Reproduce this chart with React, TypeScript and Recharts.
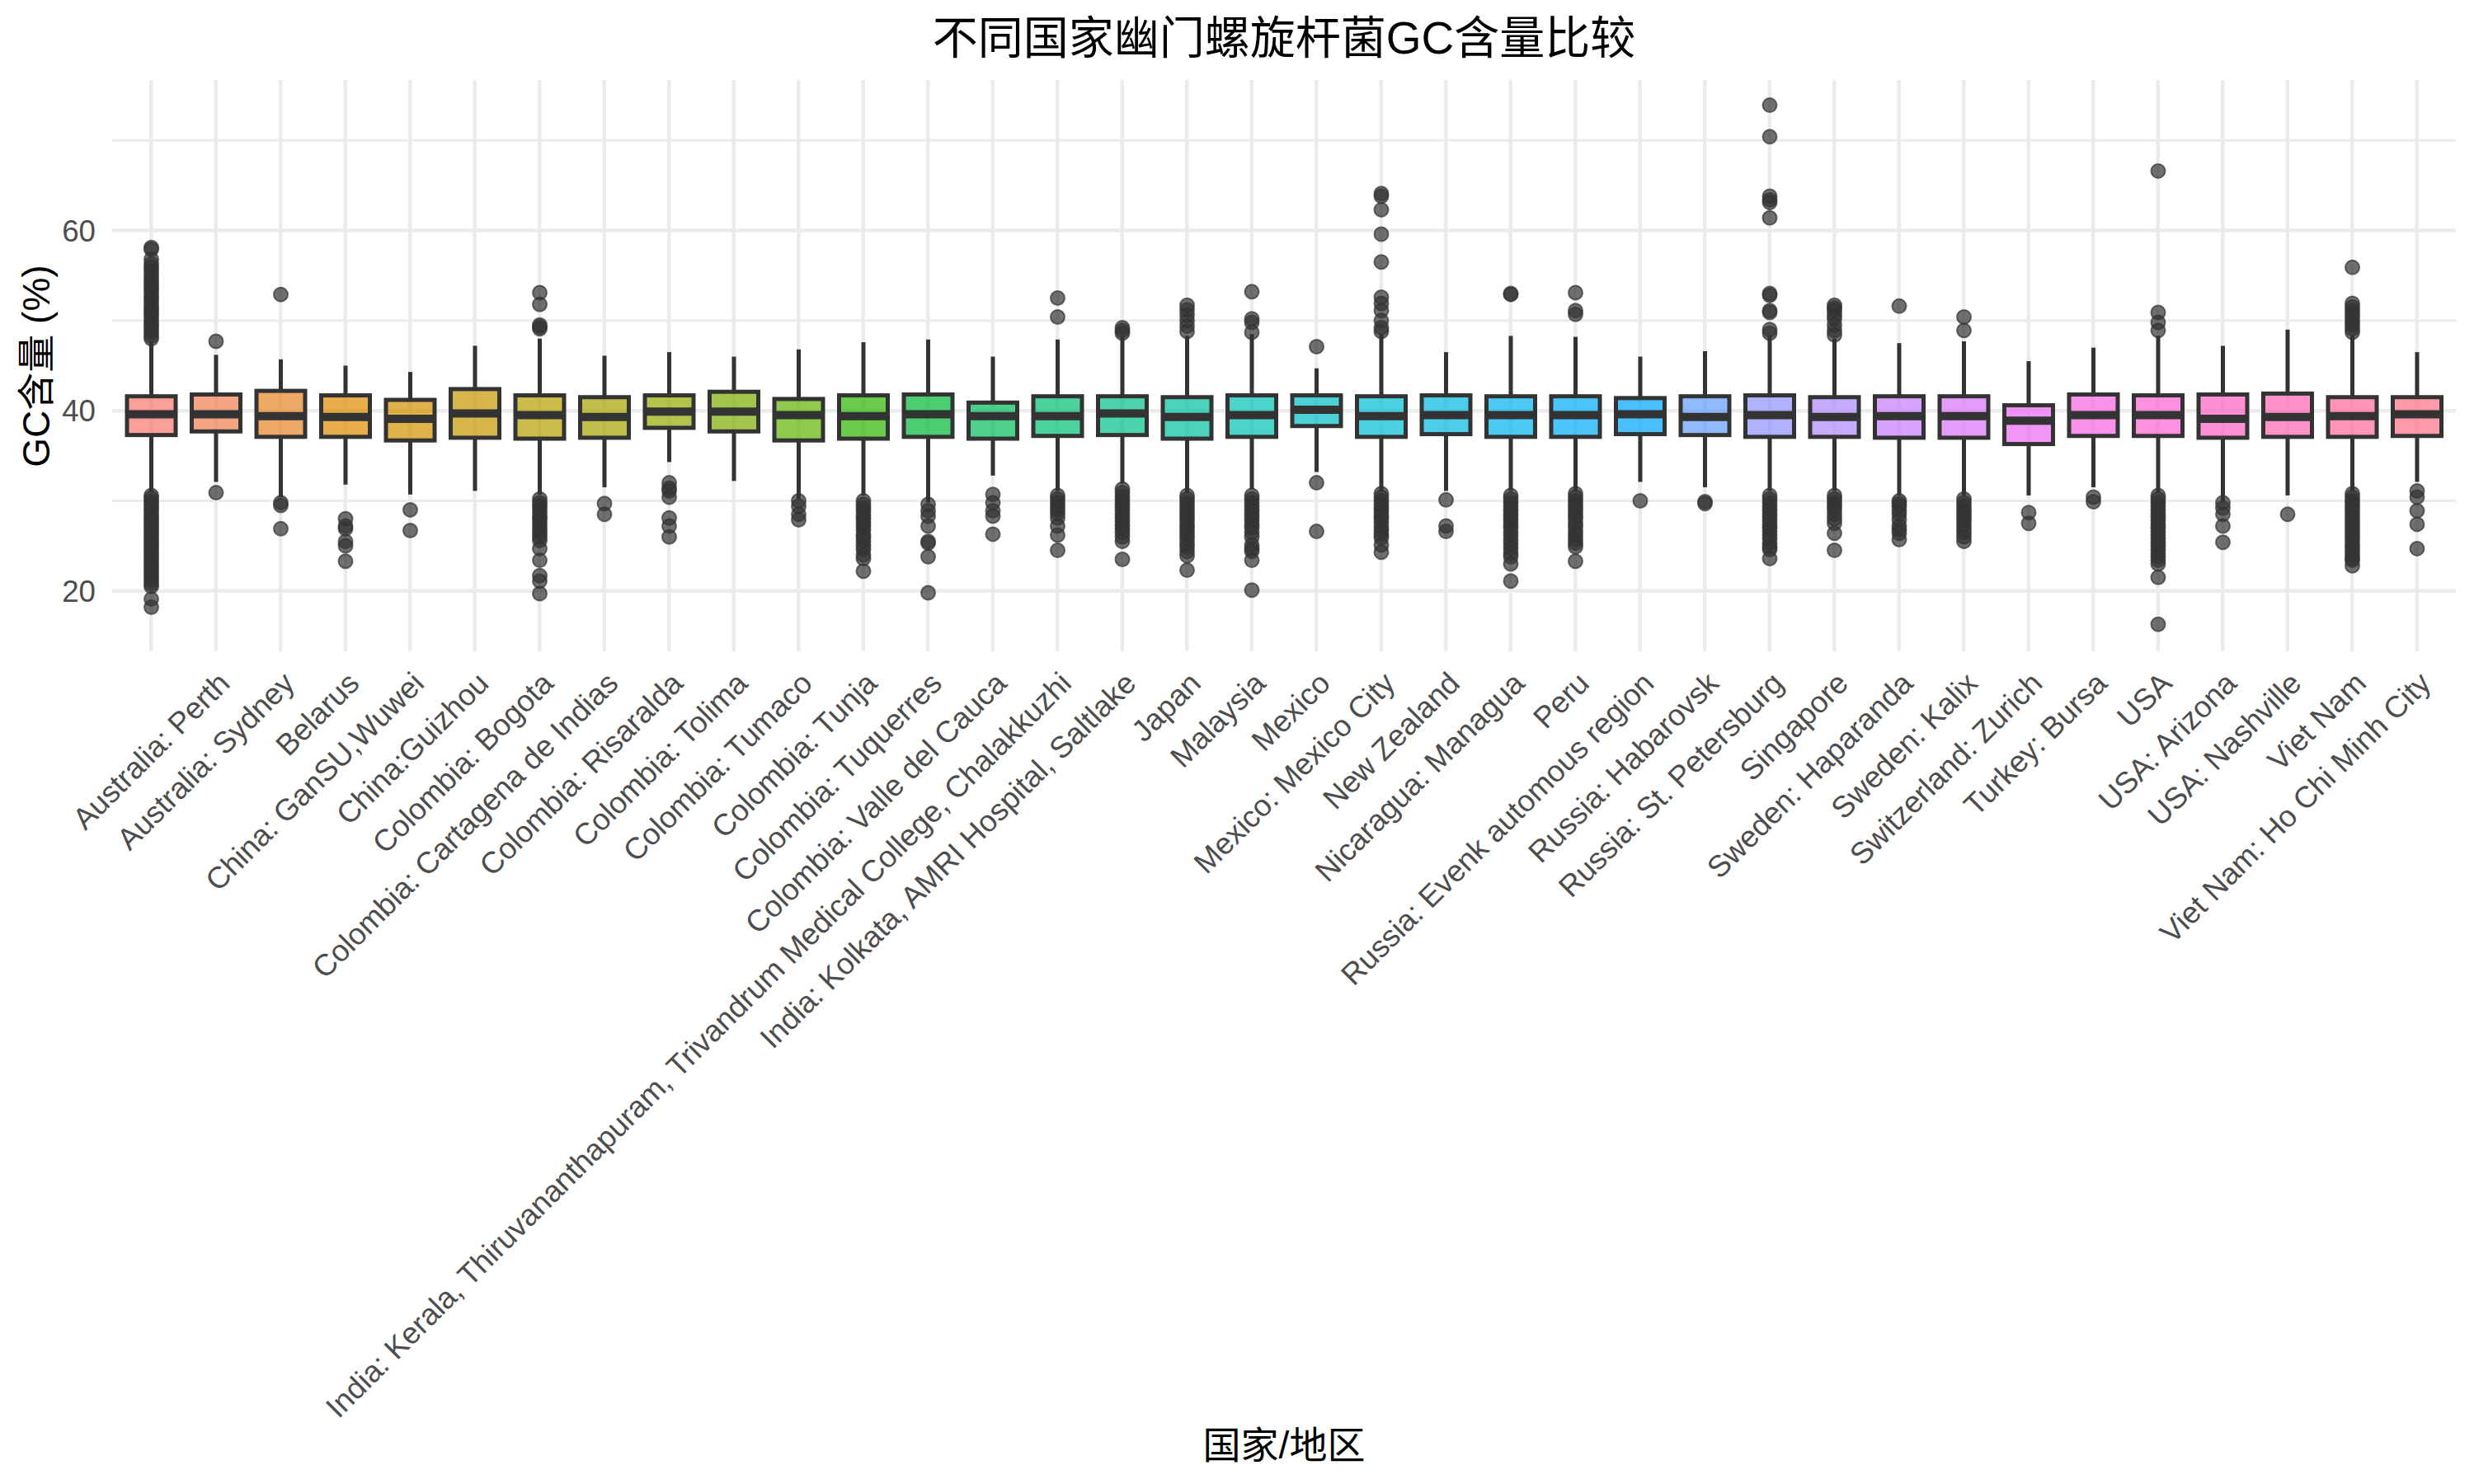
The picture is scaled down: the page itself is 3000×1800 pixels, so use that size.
import React from 'react'
import { ComposedChart, Bar, XAxis, YAxis, CartesianGrid, Customized } from 'recharts'

const FONT = "'Liberation Sans', 'Noto Sans CJK SC', sans-serif"

const regions = [
  '',
  'Australia: Perth',
  'Australia: Sydney',
  'Belarus',
  'China: GanSU,Wuwei',
  'China:Guizhou',
  'Colombia: Bogota',
  'Colombia: Cartagena de Indias',
  'Colombia: Risaralda',
  'Colombia: Tolima',
  'Colombia: Tumaco',
  'Colombia: Tunja',
  'Colombia: Tuquerres',
  'Colombia: Valle del Cauca',
  'India: Kerala, Thiruvananthapuram, Trivandrum Medical College, Chalakkuzhi',
  'India: Kolkata, AMRI Hospital, Saltlake',
  'Japan',
  'Malaysia',
  'Mexico',
  'Mexico: Mexico City',
  'New Zealand',
  'Nicaragua: Managua',
  'Peru',
  'Russia: Evenk automous region',
  'Russia: Habarovsk',
  'Russia: St. Petersburg',
  'Singapore',
  'Sweden: Haparanda',
  'Sweden: Kalix',
  'Switzerland: Zurich',
  'Turkey: Bursa',
  'USA',
  'USA: Arizona',
  'USA: Nashville',
  'Viet Nam',
  'Viet Nam: Ho Chi Minh City',
]

// box statistics per region (GC %)
const q1 = [
  37.3, 37.7, 37.1, 37.1, 36.7, 37.0, 36.9, 37.0, 38.1, 37.7, 36.7, 36.9,
  37.1, 36.9, 37.2, 37.3, 36.9, 37.1, 38.3, 37.1, 37.4, 37.1, 37.1, 37.4,
  37.3, 37.1, 37.1, 37.0, 37.0, 36.3, 37.2, 37.2, 37.0, 37.1, 37.1, 37.2,
]
const median = [
  39.6, 39.6, 39.4, 39.3, 39.1, 39.7, 39.5, 39.3, 39.9, 39.9, 39.5, 39.4,
  39.6, 39.4, 39.4, 39.7, 39.3, 39.5, 40.1, 39.4, 39.5, 39.5, 39.5, 39.6,
  39.3, 39.5, 39.3, 39.4, 39.4, 38.9, 39.5, 39.5, 39.1, 39.3, 39.4, 39.6,
]
const q3 = [
  41.6, 41.8, 42.2, 41.7, 41.2, 42.4, 41.7, 41.5, 41.7, 42.1, 41.3, 41.7,
  41.8, 40.9, 41.6, 41.6, 41.5, 41.7, 41.7, 41.6, 41.7, 41.6, 41.6, 41.4,
  41.6, 41.7, 41.5, 41.6, 41.6, 40.6, 41.8, 41.7, 41.8, 41.9, 41.5, 41.5,
]
const whiskerLow = [
  31.0, 32.1, 30.4, 31.8, 30.7, 31.1, 30.7, 31.5, 34.3, 32.2, 30.2, 30.6,
  29.8, 32.8, 31.1, 31.9, 30.9, 31.3, 33.2, 31.1, 31.1, 31.1, 31.1, 32.1,
  31.5, 31.1, 31.1, 30.6, 30.6, 30.6, 31.5, 30.9, 30.0, 30.6, 31.1, 32.1,
]
const whiskerHigh = [
  47.7, 46.2, 45.7, 45.0, 44.3, 47.2, 48.0, 46.1, 46.5, 46.0, 46.8, 47.6,
  47.9, 46.0, 47.9, 48.3, 48.3, 48.5, 44.7, 48.5, 46.5, 48.3, 48.2, 46.0,
  46.6, 48.3, 48.0, 47.5, 47.7, 45.5, 47.0, 48.3, 47.2, 49.0, 48.3, 46.5,
]
const outliers: number[][] = [
  [48.0, 48.3, 48.7, 49.0, 49.4, 49.7, 50.1, 50.5, 50.8, 51.2, 51.5, 51.9, 52.3, 52.6, 53.0, 53.4, 53.7, 54.1, 54.4, 54.8, 55.2, 55.6, 55.9, 56.3, 56.8, 57.9, 58.1,
    30.6, 30.3, 29.9, 29.6, 29.2, 28.9, 28.5, 28.2, 27.8, 27.5, 27.1, 26.8, 26.4, 26.1, 25.7, 25.4, 25.0, 24.7, 24.3, 24.0, 23.6, 23.3, 22.9, 22.6, 22.2, 21.9, 21.5, 21.2, 20.8, 20.5, 19.1, 18.2],
  [47.7, 30.9],
  [52.9, 29.8, 29.5, 26.9],
  [28.0, 27.2, 26.9, 25.5, 25.0, 23.3],
  [29.0, 26.7],
  [],
  [53.1, 51.8, 49.5, 49.3, 49.1, 30.2, 29.8, 29.5, 29.1, 28.7, 28.3, 28.0, 27.6, 27.2, 26.8, 26.4, 26.0, 25.6, 24.7, 23.4, 21.7, 21.1, 19.7],
  [29.7, 28.5],
  [32.0, 31.4, 31.1, 30.4, 28.1, 27.2, 26.0],
  [],
  [30.0, 29.4, 28.5, 27.9],
  [30.0, 29.6, 29.2, 28.8, 28.4, 28.0, 27.6, 27.2, 26.8, 26.3, 25.9, 25.5, 25.0, 24.6, 24.0, 23.6, 22.2],
  [29.6, 28.9, 28.3, 27.2, 25.5, 25.3, 23.8, 19.8],
  [30.7, 29.8, 28.9, 28.3, 26.3],
  [52.5, 50.4, 30.6, 30.2, 29.8, 29.4, 29.0, 28.6, 28.1, 27.2, 26.2, 24.5],
  [49.2, 48.9, 48.6, 31.3, 30.9, 30.5, 30.1, 29.7, 29.3, 28.9, 28.5, 28.1, 27.7, 27.3, 26.9, 26.5, 26.0, 25.5, 23.5],
  [51.7, 51.2, 50.6, 50.0, 49.4, 48.8, 30.6, 30.2, 29.8, 29.4, 29.0, 28.6, 28.2, 27.8, 27.4, 27.0, 26.6, 26.2, 25.8, 25.3, 24.9, 24.4, 23.9, 22.3],
  [53.2, 50.2, 49.8, 48.7, 30.6, 30.2, 29.8, 29.4, 29.0, 28.6, 28.2, 27.8, 27.4, 27.0, 26.5, 26.0, 25.1, 24.7, 24.4, 23.4, 20.1],
  [47.1, 32.0, 26.6],
  [64.1, 63.8, 62.3, 59.6, 56.5, 52.6, 51.9, 51.1, 50.0, 49.2, 48.8, 30.8, 30.4, 30.0, 29.6, 29.2, 28.8, 28.4, 28.0, 27.6, 27.1, 26.7, 26.3, 25.9, 25.1, 24.3],
  [30.1, 27.2, 26.6],
  [53.0, 52.9, 30.6, 30.2, 29.8, 29.4, 29.0, 28.6, 28.2, 27.8, 27.4, 27.0, 26.5, 26.1, 25.6, 25.2, 24.7, 24.2, 23.8, 23.0, 21.1],
  [53.1, 51.1, 50.7, 30.8, 30.4, 30.0, 29.6, 29.2, 28.8, 28.4, 28.0, 27.5, 27.1, 26.6, 26.2, 25.7, 25.3, 24.9, 23.3],
  [30.0],
  [29.9, 29.7],
  [73.9, 70.4, 63.8, 63.4, 63.1, 61.4, 53.0, 52.8, 51.1, 50.9, 49.0, 48.6, 30.6, 30.2, 29.8, 29.4, 29.0, 28.6, 28.2, 27.8, 27.4, 27.0, 26.6, 26.2, 25.8, 25.3, 24.9, 24.6, 23.6],
  [51.7, 51.4, 51.1, 50.6, 50.2, 49.5, 48.9, 48.4, 30.6, 30.2, 29.8, 29.4, 29.0, 28.5, 28.0, 27.5, 26.4, 24.5],
  [51.6, 30.0, 29.7, 29.4, 28.9, 28.5, 27.9, 27.2, 26.8, 26.4, 25.7],
  [50.4, 48.9, 30.2, 29.8, 29.4, 29.0, 28.6, 28.2, 27.8, 27.4, 26.9, 26.5, 26.0, 25.5],
  [28.7, 27.5],
  [30.4, 29.9],
  [66.6, 50.9, 49.8, 48.9, 30.6, 30.2, 29.8, 29.4, 29.0, 28.6, 28.2, 27.8, 27.4, 27.0, 26.6, 26.2, 25.8, 25.4, 25.0, 24.6, 24.2, 23.8, 23.4, 23.0, 21.5, 16.3],
  [29.8, 29.2, 28.5, 27.2, 25.4],
  [28.5],
  [55.9, 51.9, 51.5, 51.1, 50.7, 50.3, 49.9, 49.5, 49.1, 48.7, 30.8, 30.4, 30.0, 29.6, 29.2, 28.8, 28.4, 28.0, 27.6, 27.2, 26.8, 26.4, 26.0, 25.6, 25.2, 24.8, 24.4, 24.0, 23.6, 23.4, 22.8],
  [31.1, 30.4, 28.9, 27.4, 24.7],
]

const yTicks = [20, 40, 60]
const yMinor = [30, 50, 70]

// ggplot-style hue palette (polar LUV -> sRGB)
const hcl = (h: number, c: number, l: number) => {
  const rad = (h * Math.PI) / 180
  const u = c * Math.cos(rad)
  const v = c * Math.sin(rad)
  const Xn = 95.047, Yn = 100, Zn = 108.883
  const un = (4 * Xn) / (Xn + 15 * Yn + 3 * Zn)
  const vn = (9 * Yn) / (Xn + 15 * Yn + 3 * Zn)
  const Y = l > 8 ? Yn * Math.pow((l + 16) / 116, 3) : (Yn * l) / 903.3
  const up = u / (13 * l) + un
  const vp = v / (13 * l) + vn
  const X = (Y * 9 * up) / (4 * vp)
  const Z = (Y * (12 - 3 * up - 20 * vp)) / (4 * vp)
  const lin = [
    3.2404542 * X - 1.5371385 * Y - 0.4985314 * Z,
    -0.969266 * X + 1.8760108 * Y + 0.041556 * Z,
    0.0556434 * X - 0.2040259 * Y + 1.0572252 * Z,
  ].map((t) => t / 100)
  const gam = (t: number) => {
    const s = t <= 0.0031308 ? 12.92 * t : 1.055 * Math.pow(t, 1 / 2.4) - 0.055
    return Math.round(Math.min(1, Math.max(0, s)) * 255)
  }
  return '#' + lin.map((t) => gam(t).toString(16).padStart(2, '0')).join('')
}
const palette = regions.map((_, i) => hcl((15 + (360 / regions.length) * i) % 360, 100, 65))

const data = regions.map((name, i) => ({
  name,
  idx: i,
  box: [q1[i], q3[i]],
  q1: q1[i],
  q3: q3[i],
  median: median[i],
  lo: whiskerLow[i],
  hi: whiskerHigh[i],
  outliers: outliers[i],
}))

const BoxShape = (props: any) => {
  const { x, y, width, height, payload } = props
  if (!payload || height == null) return null
  const k = height / (payload.q3 - payload.q1)
  const py = (v: number) => y + (payload.q3 - v) * k
  const cx = x + width / 2
  return (
    <g>
      {payload.outliers.map((v: number, j: number) => (
        <circle key={j} cx={cx} cy={py(v)} r={8.5} fill="#333333" fillOpacity={0.7}
          stroke="#333333" strokeOpacity={0.7} strokeWidth={2} />
      ))}
      <line x1={cx} x2={cx} y1={py(payload.hi)} y2={y} stroke="#333333" strokeWidth={5} />
      <line x1={cx} x2={cx} y1={y + height} y2={py(payload.lo)} stroke="#333333" strokeWidth={5} />
      <rect x={x} y={y} width={width} height={height} fill={palette[payload.idx]} fillOpacity={0.7}
        stroke="#333333" strokeWidth={5} />
      <line x1={x} x2={x + width} y1={py(payload.median)} y2={py(payload.median)} stroke="#333333" strokeWidth={10} />
    </g>
  )
}

const XTick = (props: any) => {
  const { x, y, payload } = props
  if (!payload || !payload.value) return null
  const ax = x + 19
  const ay = y + 41
  return (
    <text x={ax} y={ay} transform={`rotate(-45, ${ax}, ${ay})`} textAnchor="end"
      fontSize={36.7} fill="#4D4D4D" fontFamily={FONT}>
      {payload.value}
    </text>
  )
}

const Titles = () => (
  <g fontFamily={FONT} fill="#000000">
    <text x={1557} y={65} textAnchor="middle" fontSize={55}>不同国家幽门螺旋杆菌GC含量比较</text>
    <text x={1557} y={1769} textAnchor="middle" fontSize={46}>国家/地区</text>
    <text x={60} y={444} textAnchor="middle" fontSize={46} transform="rotate(-90, 60, 444)">GC含量 (%)</text>
  </g>
)

export default function App() {
  return (
    <div style={{ position: 'absolute', left: 0, top: 0, width: 3000, height: 1800, background: '#fff' }}>
      <ComposedChart width={3000} height={1800} data={data}
        margin={{ top: 97, right: 22, left: 36, bottom: 10 }}>
        <CartesianGrid vertical={false} horizontalValues={yMinor} stroke="#EBEBEB" strokeWidth={3} />
        <CartesianGrid horizontalValues={yTicks} stroke="#EBEBEB" strokeWidth={4.5} syncWithTicks />
        <XAxis dataKey="name" type="category" interval={0} height={1000} tick={<XTick />}
          tickLine={false} axisLine={false} tickSize={0} tickMargin={0} padding={{ left: 8, right: 8 }} />
        <YAxis type="number" domain={[13.3, 76.7]} ticks={yTicks} width={100} tickLine={false} axisLine={false}
          tickSize={0} tickMargin={20} tick={{ fill: '#4D4D4D', fontSize: 36.7, fontFamily: FONT }} />
        <Bar dataKey="box" barSize={59} shape={BoxShape} isAnimationActive={false} />
        <Customized component={Titles} />
      </ComposedChart>
    </div>
  )
}
